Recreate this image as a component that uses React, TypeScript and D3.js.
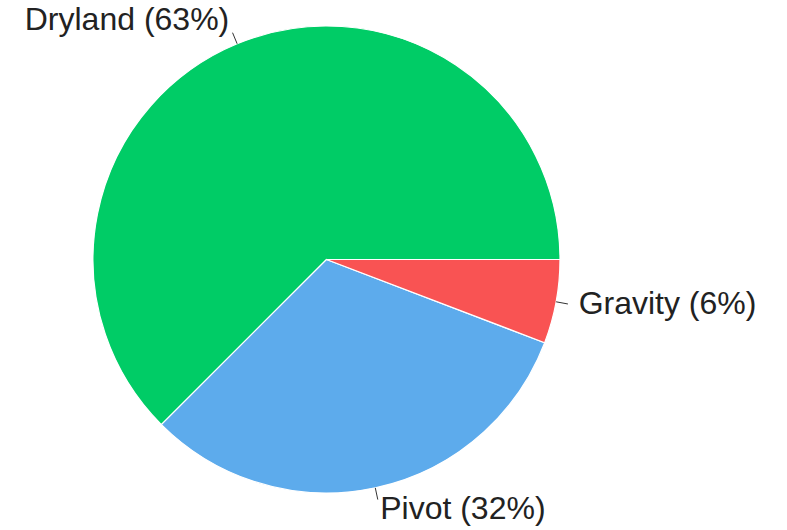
import React, { useEffect, useRef } from 'react';
import * as d3 from 'd3';

// slice data (order: counterclockwise from 3 o'clock)
const categories = ['Dryland', 'Pivot', 'Gravity'];
const shares = [62.5, 31.7, 5.8];
const colors = ['#00cc66', '#5dabec', '#f95353'];

const WIDTH = 787;
const HEIGHT = 530;

function App() {
  const svgRef = useRef<SVGSVGElement | null>(null);

  useEffect(() => {
    const svg = d3.select(svgRef.current);
    svg.selectAll('*').remove();

    const cx = 326.5;
    const cy = 259.5;
    const radius = 233.5;
    const lineLen = 12;

    const data = categories.map((name, i) => ({ name, value: shares[i], color: colors[i] }));
    const total = d3.sum(shares);

    // start at 3 o'clock and go counterclockwise
    const pie = d3.pie<any>()
      .sort(null)
      .value(d => d.value)
      .startAngle(Math.PI / 2)
      .endAngle(Math.PI / 2 - 2 * Math.PI);

    const arc = d3.arc<any>().innerRadius(0).outerRadius(radius);
    const arcs = pie(data);

    const g = svg.append('g').attr('transform', `translate(${cx},${cy})`);

    g.selectAll('path.slice')
      .data(arcs)
      .enter()
      .append('path')
      .attr('class', 'slice')
      .attr('d', arc as any)
      .attr('fill', d => d.data.color)
      .attr('stroke', '#ffffff')
      .attr('stroke-width', 1.2);

    // leader lines + labels
    arcs.forEach(a => {
      const mid = (a.startAngle + a.endAngle) / 2;
      const dx = Math.sin(mid);
      const dy = -Math.cos(mid);
      const x0 = dx * radius;
      const y0 = dy * radius;
      const x1 = dx * (radius + lineLen);
      const y1 = dy * (radius + lineLen);

      g.append('line')
        .attr('x1', x0)
        .attr('y1', y0)
        .attr('x2', x1)
        .attr('y2', y1)
        .attr('stroke', '#333')
        .attr('stroke-width', 1);

      const gap = 2 + 9 * dx * dx;
      const pct = Math.round((a.data.value / total) * 100);
      g.append('text')
        .attr('x', x1 + (dx >= 0 ? gap : -gap))
        .attr('y', y1 + dy * 12 + 8)
        .attr('text-anchor', dx >= 0 ? 'start' : 'end')
        .attr('font-family', '"Liberation Sans", Arial, sans-serif')
        .attr('font-size', 32)
        .attr('fill', '#222')
        .text(`${a.data.name} (${pct}%)`);
    });
  }, []);

  return (
    <svg
      ref={svgRef}
      width={WIDTH}
      height={HEIGHT}
      style={{ position: 'absolute', left: 0, top: 0, background: '#fff' }}
    />
  );
}

export default App;
